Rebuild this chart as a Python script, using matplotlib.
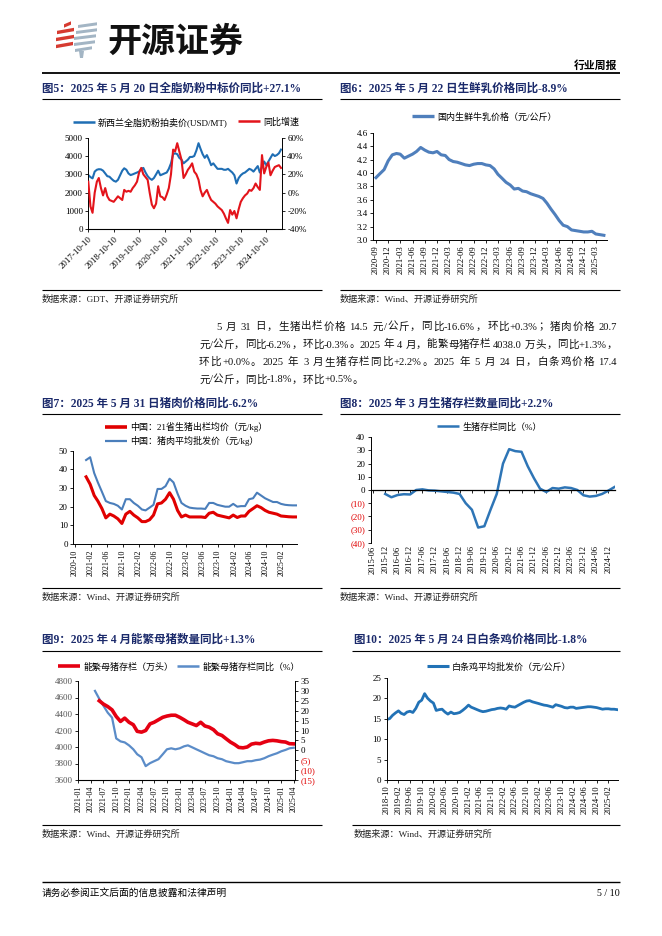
import matplotlib
matplotlib.use('Agg')
import matplotlib.pyplot as plt
import matplotlib.dates as mdates
from matplotlib.lines import Line2D
from matplotlib.patches import Polygon
from matplotlib.ticker import MultipleLocator, FuncFormatter
import pandas as pd

# ---------------- data ----------------
# Fig5: GDT whole milk powder price (USD/MT) and YoY (%), monthly from 2017-10-10
gdt_price = [2960, 2850, 2780, 3150, 3250, 3280, 3270, 3200, 3050, 2900,
             2870, 2750, 2650, 2600, 2700, 2950, 3200, 3330, 3250, 3050,
             2960, 3000, 3050, 3100, 3150, 3300, 3350, 3100, 2900, 2780,
             2700, 2800, 3000, 3200, 2950, 3000, 3050, 3100, 3300, 3600,
             4100, 4150, 4100, 3900, 3800, 3600, 3700, 3800, 3950, 3950,
             4000, 4300, 4700, 4400, 4100, 3900, 4050, 3800, 3500, 3600,
             3450, 3300, 3300, 3300, 3250, 3250, 3300, 3200, 3100, 2950,
             2500, 2800, 2950, 3050, 3100, 3200, 3300, 3250, 3150, 3300,
             3450, 3100, 3400, 3700, 3500, 3700, 3900, 4100, 4000, 4050,
             4150, 4350]
gdt_yoy = [12, -15, -22, 0, 12, 16, 5, -3, 5, -4,
           -8, -9, -10, -7, -4, -6, -8, 3, 1, 2,
           1, 5, 8, 12, 22, 27, 20, 17, 14, 0,
           -13, -17, -12, 7, -4, -5, -8, -2, 5, 20,
           47, 45, 54, 45, 36, 16, 20, 25, 28, 32,
           23, 20, 14, 3, -4, 0, 3, -3, -8, -10,
           -12, -15, -17, -19, -23, -28, -33, -19, -24, -20,
           -28, -18, -10, -6, -3, -1, 3, 2, 5, 10,
           6, 3, 41, 21, 28, 33, 19, 24, 28, 29,
           30, 27]

# Fig6: domestic raw milk price (yuan/kg), monthly from 2020-09
milk_price = [3.93, 3.99, 4.05, 4.18, 4.27, 4.29, 4.28, 4.22, 4.25, 4.28,
              4.32, 4.38, 4.34, 4.31, 4.30, 4.32, 4.27, 4.26, 4.20, 4.17,
              4.16, 4.14, 4.12, 4.11, 4.13, 4.14, 4.14, 4.12, 4.11, 4.06,
              3.98, 3.92, 3.86, 3.82, 3.76, 3.77, 3.73, 3.72, 3.69, 3.67,
              3.65, 3.62, 3.55, 3.46, 3.38, 3.29, 3.22, 3.20, 3.15, 3.14,
              3.13, 3.12, 3.12, 3.13, 3.09, 3.08, 3.07]

# Fig7: hog price and pork wholesale price (yuan/kg), monthly from 2020-12-25
hog_price = [36, 32, 26, 23, 19, 14, 16, 15, 13.5, 11,
             16, 17.5, 15.5, 14, 12, 12, 13, 15.5, 21.5, 22,
             24, 27.5, 24, 18, 14.5, 15.5, 14.5, 14.5, 14.5, 14.5,
             14.2, 16.5, 17, 15.5, 15, 14.5, 14, 15.5, 14.2, 15,
             15, 17.5, 19, 20.5, 19.5, 18, 17, 16.5, 16, 15,
             14.8, 14.6, 14.5, 14.5]
pork_price = [45, 46.5, 38, 33, 28, 23, 22, 21.5, 20.5, 18.5,
              24, 24, 22, 20.5, 18.5, 18, 19.5, 21, 29.5, 29.5,
              31, 35, 33, 27, 22, 20.5, 19.5, 19.2, 19, 19,
              18.8, 22, 22, 21, 20.5, 20, 20, 21.5, 20, 20.3,
              20.3, 24, 24.5, 27.5, 26, 24.5, 23.5, 22.5, 22.5, 21.5,
              21, 20.8, 20.7, 20.7]

# Fig8: hog inventory YoY (%), quarterly from 2015-12
hog_stock_yoy = [-3, -5.5, -3.8, -3.2, -3.4, 0, 0.5, -0.3, -0.5, -1.0,
                 -1.5, -2.0, -3.0, -10, -15, -28.5, -27.5, -15, -3, 20,
                 31, 29.5, 29, 18, 9, 1, -1.5, 1.5, 1, 2,
                 1.5, 0, -4, -5, -4.5, -3, -0.5, 2.2]
fig8_yticks = [-40, -30, -20, -10, 0, 10, 20, 30, 40]

# Fig9: breeding sow inventory (10k head) from 2021-06 and YoY (%) from 2021-05
sow_stock = [4560, 4520, 4490, 4450, 4370, 4310, 4350, 4300, 4270, 4190,
             4180, 4200, 4280, 4300, 4330, 4360, 4375, 4385, 4385, 4360,
             4330, 4300, 4280, 4260, 4300, 4255, 4240, 4210, 4160, 4140,
             4100, 4060, 4030, 3995, 3990, 4000, 4035, 4045, 4040, 4060,
             4075, 4080, 4075, 4065, 4060, 4040, 4038]
sow_yoy = [30, 26, 22.5, 19, 16.5, 6, 4.5, 4, 2.5, 0.5,
           -2, -3.5, -8, -6.5, -5.5, -4.5, -2, 0.5, 1, 0.5,
           1, 2, 2.5, 1.5, 0.5, -0.5, -1.5, -2.5, -3, -4,
           -4.5, -5.5, -6, -6.5, -6.5, -6, -5.5, -5.5, -5, -4.7,
           -4, -3, -2.2, -1.5, -0.5, 0.2, 1, 1.3]
fig9_rticks = [-15, -10, -5, 0, 5, 10, 15, 20, 25, 30, 35]

# Fig10: white-striped chicken wholesale price (yuan/kg), monthly from 2018-10
chicken_price = [14.8, 15.0, 15.8, 16.4, 16.9, 16.3, 16.0, 16.6, 16.8, 16.5,
                 17.5, 19.0, 19.5, 21.1, 20.0, 19.3, 18.8, 17.0, 17.2, 17.3,
                 16.6, 16.1, 16.6, 16.2, 16.3, 16.5, 17.0, 17.6, 18.3, 17.8,
                 17.5, 17.2, 16.9, 16.7, 16.8, 17.0, 17.2, 17.3, 17.5, 17.6,
                 17.5, 17.3, 18.1, 17.9, 17.8, 18.2, 18.6, 19.0, 19.3, 19.4,
                 19.1, 18.9, 18.7, 18.5, 18.3, 18.2, 18.0, 17.8, 18.4, 18.2,
                 18.0, 17.7, 17.6, 17.8, 17.8, 17.5, 17.6, 17.7, 17.8, 17.9,
                 17.9, 17.8, 17.7, 17.5, 17.3, 17.4, 17.4, 17.3, 17.3, 17.2]

para_lines = [
    "5 月 31 日，生猪出栏价格 14.5 元/公斤，同比-16.6%，环比+0.3%；猪肉价格 20.7",
    "元/公斤，同比-6.2%，环比-0.3%。2025 年 4 月，能繁母猪存栏 4038.0 万头，同比+1.3%，",
    "环比+0.0%。2025 年 3 月生猪存栏同比+2.2%。2025 年 5 月 24 日，白条鸡价格 17.4",
    "元/公斤，同比-1.8%，环比+0.5%。",
]

# ---------------- setup ----------------
FAM = ['Liberation Serif', 'Noto Sans CJK SC']
plt.rcParams['font.family'] = FAM
plt.rcParams['axes.unicode_minus'] = False

W, H = 662, 936
fig = plt.figure(figsize=(W / 100, H / 100), dpi=100)
page = fig.add_axes([0, 0, 1, 1])
page.set_xlim(0, W)
page.set_ylim(H, 0)
page.axis('off')

NAVY = '#1B2A6B'


def rect(l, t, r, b):
    return [l / W, 1 - b / H, (r - l) / W, (b - t) / H]


def hline(x0, x1, y, lw=0.8):
    page.plot([x0, x1], [y, y], color='black', lw=lw, solid_capstyle='butt')


def title(x, y, s):
    page.text(x, y, s, fontsize=8.3, fontweight='bold', color=NAVY,
              ha='left', va='center', family=FAM)


def source(x, y, s):
    page.text(x, y, s, fontsize=6.6, color='#222222', ha='left', va='center', family=FAM)


def leg(color, lw, label, x, y, fs=6.5, length_px=22):
    h = Line2D([], [], color=color, lw=lw, solid_capstyle='butt')
    fig.legend([h], [label], loc='center left', bbox_to_anchor=(x / W, 1 - y / H),
               frameon=False, fontsize=fs, handlelength=length_px * 0.72 / fs,
               handletextpad=0.35, borderpad=0, borderaxespad=0)


def base(ax, fs=6.5):
    ax.spines['top'].set_visible(False)
    ax.spines['right'].set_visible(False)
    for s in ax.spines.values():
        s.set_linewidth(0.7)
    ax.tick_params(axis='both', labelsize=fs, length=2.5, width=0.6, pad=1.5, colors='black')
    ax.patch.set_visible(False)


# ---------------- page header ----------------
red_bars = [(64, 71, 24.5), (57, 74, 31), (56, 74, 38), (56, 73, 45)]
for xl, xr, yc in red_bars:
    page.add_patch(Polygon([(xl, yc + 3.2), (xr, yc + 0.2), (xr, yc - 3.2), (xl, yc - 0.2)],
                           closed=True, color='#D63A30', lw=0))
grey_bars = [(78, 97, 25), (76, 97, 31), (74, 96, 37), (74, 95, 43), (75, 92, 49)]
for xl, xr, yc in grey_bars:
    page.add_patch(Polygon([(xl, yc + 3.0), (xr, yc + 0.3), (xr, yc - 2.7), (xl, yc)],
                           closed=True, color='#A3B5C4', lw=0))
page.add_patch(Polygon([(79, 51), (84, 51), (83, 58), (80, 58)], closed=True, color='#A3B5C4', lw=0))
page.text(107, 41, '开源证券', fontsize=24.5, fontweight='bold', family=['Noto Sans CJK SC'],
          ha='left', va='center', color='#111111')
page.text(617, 66, '行业周报', fontsize=7.8, fontweight='bold', ha='right', va='center', family=FAM)
hline(42, 620, 73, lw=1.3)

# titles / underlines
title(42, 89, '图5：2025 年 5 月 20 日全脂奶粉中标价同比+27.1%')
title(340, 89, '图6：2025 年 5 月 22 日生鲜乳价格同比-8.9%')
hline(42, 322, 99)
hline(340, 620, 99)
hline(42, 322, 290)
hline(340, 620, 290)
source(42, 299, '数据来源：GDT、开源证券研究所')
source(340, 299, '数据来源：Wind、开源证券研究所')

title(42, 404, '图7：2025 年 5 月 31 日猪肉价格同比-6.2%')
title(340, 404, '图8：2025 年 3 月生猪存栏数量同比+2.2%')
hline(42, 322, 414)
hline(340, 620, 414)
hline(42, 322, 588)
hline(340, 620, 588)
source(42, 597, '数据来源：Wind、开源证券研究所')
source(340, 597, '数据来源：Wind、开源证券研究所')

title(42, 640, '图9：2025 年 4 月能繁母猪数量同比+1.3%')
title(354, 640, '图10：2025 年 5 月 24 日白条鸡价格同比-1.8%')
hline(42, 322, 651)
hline(352, 620, 651)
hline(42, 322, 825)
hline(352, 620, 825)
source(42, 834, '数据来源：Wind、开源证券研究所')
source(354, 834, '数据来源：Wind、开源证券研究所')

hline(42, 620, 882, lw=1.0)
page.text(42, 893, '请务必参阅正文后面的信息披露和法律声明', fontsize=7.0, ha='left', va='center', family=FAM)
page.text(620, 893, '5 / 10', fontsize=7.2, ha='right', va='center', family=FAM)

# ---------------- paragraph (justified) ----------------
BFS = 7.6


def tokens(s):
    out, buf = [], ''
    for ch in s:
        if ord(ch) < 128 and ch != ' ':
            buf += ch
        else:
            if buf:
                out.append(buf)
                buf = ''
            out.append(ch)
    if buf:
        out.append(buf)
    return out


renderer = fig.canvas.get_renderer()


def ink_w(s):
    t = page.text(0, 0, s, fontsize=BFS, family=FAM)
    w = t.get_window_extent(renderer=renderer).width
    t.remove()
    return w


REF = ink_w('HH')


def adv_w(s):
    # advance width of s measured between two bracketing glyphs
    return ink_w('H' + s + 'H') - REF


def put_line(s, x0, x1, y, justify):
    toks = tokens(s)
    ws = [adv_w(t) for t in toks]
    gap = (x1 - x0 - sum(ws)) / (len(toks) - 1) if justify else 0.2
    x = x0
    for t, w in zip(toks, ws):
        if t != ' ':
            page.text(x, y, t, fontsize=BFS, family=FAM, ha='left', va='baseline', color='#111111')
        x += w + gap


line_y = [329.5, 347.5, 365, 382.5]
put_line(para_lines[0], 216, 617, line_y[0], True)
put_line(para_lines[1], 199, 617, line_y[1], True)
put_line(para_lines[2], 199, 617, line_y[2], True)
put_line(para_lines[3], 199, 617, line_y[3], False)

# ---------------- Fig5 ----------------
ax5 = fig.add_axes(rect(88.3, 137.7, 281.7, 229.3))
base(ax5)
d5 = pd.date_range('2017-10-01', periods=len(gdt_price), freq='MS') + pd.Timedelta(days=9)
ax5.plot(d5, gdt_price, color='#1F6EB4', lw=1.5)
ax5.set_ylim(0, 5000)
ax5.yaxis.set_major_locator(MultipleLocator(1000))
ax5.set_xlim(pd.Timestamp('2017-10-10'), pd.Timestamp('2025-05-20'))
ax5.xaxis.set_major_locator(mdates.MonthLocator(bymonth=10, bymonthday=10))
ax5.xaxis.set_major_formatter(mdates.DateFormatter('%Y-%m-%d'))
plt.setp(ax5.get_xticklabels(), rotation=45, ha='right', va='top', rotation_mode='anchor')
ax5b = ax5.twinx()
ax5b.spines['top'].set_visible(False)
ax5b.spines['left'].set_visible(False)
ax5b.spines['right'].set_linewidth(0.7)
ax5b.patch.set_visible(False)
ax5b.plot(d5, gdt_yoy, color='#E3141B', lw=1.5)
ax5b.set_ylim(-40, 60)
ax5b.yaxis.set_major_locator(MultipleLocator(20))
ax5b.yaxis.set_major_formatter(FuncFormatter(lambda v, p: f'{v:.0f}%'))
ax5b.tick_params(axis='y', labelsize=6.5, length=2.5, width=0.6, pad=1.5)
leg('#1F6EB4', 1.8, '新西兰全脂奶粉拍卖价(USD/MT)', 73, 122)
leg('#E3141B', 1.8, '同比增速', 238, 122)

# ---------------- Fig6 ----------------
ax6 = fig.add_axes(rect(373.3, 132.7, 606.7, 240))
base(ax6)
d6 = pd.date_range('2020-09-01', periods=len(milk_price), freq='MS')
ax6.plot(d6, milk_price, color='#4F7FBC', lw=2.2)
ax6.set_ylim(3.0, 4.6)
ax6.yaxis.set_major_locator(MultipleLocator(0.2))
ax6.yaxis.set_major_formatter(FuncFormatter(lambda v, p: f'{v:.1f}'))
ax6.set_xlim(pd.Timestamp('2020-08-12'), pd.Timestamp('2025-05-22'))
ax6.xaxis.set_major_locator(mdates.MonthLocator(bymonth=[3, 6, 9, 12]))
ax6.xaxis.set_major_formatter(mdates.DateFormatter('%Y-%m'))
ax6.tick_params(axis='x', labelrotation=90, labelsize=6.2)
leg('#4F7FBC', 2.4, '国内生鲜牛乳价格（元/公斤）', 412, 117)

# ---------------- Fig7 ----------------
ax7 = fig.add_axes(rect(73.3, 450.7, 296.7, 544))
base(ax7)
d7 = pd.date_range('2020-12-01', periods=len(hog_price), freq='MS') + pd.Timedelta(days=24)
ax7.plot(d7, pork_price, color='#4A7EBB', lw=1.5)
ax7.plot(d7, hog_price, color='#E00000', lw=2.2)
ax7.set_ylim(0, 50)
ax7.yaxis.set_major_locator(MultipleLocator(10))
ax7.set_xlim(pd.Timestamp('2020-09-18'), pd.Timestamp('2025-05-25'))
ax7.xaxis.set_major_locator(mdates.MonthLocator(bymonth=[2, 6, 10]))
ax7.xaxis.set_major_formatter(mdates.DateFormatter('%Y-%m'))
ax7.tick_params(axis='x', labelrotation=90, labelsize=5.8)
leg('#E00000', 2.6, '中国：21省生猪出栏均价（元/kg）', 105, 427)
leg('#4A7EBB', 1.6, '中国：猪肉平均批发价（元/kg）', 105, 441)

# ---------------- Fig8 ----------------
ax8 = fig.add_axes(rect(370.7, 437.3, 615, 542.7))
base(ax8)
d8 = pd.date_range('2015-12-01', periods=len(hog_stock_yoy), freq='3MS')
ax8.plot(d8, hog_stock_yoy, color='#2E75B6', lw=1.8)
ax8.set_ylim(-40, 40)
ax8.set_xlim(pd.Timestamp('2015-05-01'), pd.Timestamp('2025-03-10'))
ax8.spines['bottom'].set_position(('data', 0))
ax8.spines['bottom'].set_linewidth(0.9)
ax8.xaxis.set_major_locator(mdates.MonthLocator(bymonth=[6, 12]))
ax8.xaxis.set_major_formatter(mdates.DateFormatter('%Y-%m'))
zero_px = 437.3 + (542.7 - 437.3) * 0.5
ax8.tick_params(axis='x', labelrotation=90, labelsize=6.0,
                pad=(542.7 - zero_px) * 0.72 + 2 - 2.5)
ax8.set_yticks(fig8_yticks)
labs8 = ax8.set_yticklabels([f'({abs(v)})' if v < 0 else f'{v}' for v in fig8_yticks])
for v, lab in zip(fig8_yticks, labs8):
    lab.set_color('#E00000' if v < 0 else 'black')
leg('#2E75B6', 1.8, '生猪存栏同比（%）', 437, 427)

# ---------------- Fig9 ----------------
ax9 = fig.add_axes(rect(78.3, 681, 295, 780))
base(ax9)
d9a = pd.date_range('2021-06-01', periods=len(sow_stock), freq='MS')
d9b = pd.date_range('2021-05-01', periods=len(sow_yoy), freq='MS')
ax9.set_ylim(3600, 4800)
ax9.yaxis.set_major_locator(MultipleLocator(200))
ax9.tick_params(axis='y', labelcolor='#555555')
ax9.set_xlim(pd.Timestamp('2021-01-01'), pd.Timestamp('2025-04-10'))
ax9.xaxis.set_major_locator(mdates.MonthLocator(bymonth=[1, 4, 7, 10]))
ax9.xaxis.set_major_formatter(mdates.DateFormatter('%Y-%m'))
ax9.tick_params(axis='x', labelrotation=90, labelsize=5.8)
ax9b = ax9.twinx()
ax9b.spines['top'].set_visible(False)
ax9b.spines['left'].set_visible(False)
ax9b.spines['right'].set_linewidth(0.7)
ax9b.patch.set_visible(False)
ax9b.plot(d9b, sow_yoy, color='#5B8CC8', lw=1.6)
ax9b.set_ylim(-15, 35)
ax9b.set_yticks(fig9_rticks)
labs9 = ax9b.set_yticklabels([f'({abs(v)})' if v < 0 else f'{v}' for v in fig9_rticks])
for v, lab in zip(fig9_rticks, labs9):
    lab.set_color('#E00000' if v < 0 else 'black')
ax9b.tick_params(axis='y', labelsize=6.5, length=2.5, width=0.6, pad=1.5)
ax9c = ax9.twinx()
ax9c.axis('off')
ax9c.set_ylim(3600, 4800)
ax9c.plot(d9a, sow_stock, color='#E50012', lw=2.6)
leg('#E50012', 2.6, '能繁母猪存栏（万头）', 58, 667)
leg('#5B8CC8', 1.8, '能繁母猪存栏同比（%）', 177, 667)

# ---------------- Fig10 ----------------
ax10 = fig.add_axes(rect(386.7, 677.7, 618.3, 780))
base(ax10)
d10 = pd.date_range('2018-10-01', periods=len(chicken_price), freq='MS')
ax10.plot(d10, chicken_price, color='#2272B6', lw=2.0)
ax10.set_ylim(0, 25)
ax10.yaxis.set_major_locator(MultipleLocator(5))
ax10.set_xlim(pd.Timestamp('2018-10-01'), pd.Timestamp('2025-05-15'))
ax10.xaxis.set_major_locator(mdates.MonthLocator(bymonth=[2, 6, 10]))
ax10.xaxis.set_major_formatter(mdates.DateFormatter('%Y-%m'))
ax10.tick_params(axis='x', labelrotation=90, labelsize=6.2)
leg('#2272B6', 2.2, '白条鸡平均批发价（元/公斤）', 427, 667)

fig.savefig('out.png', dpi=100)
